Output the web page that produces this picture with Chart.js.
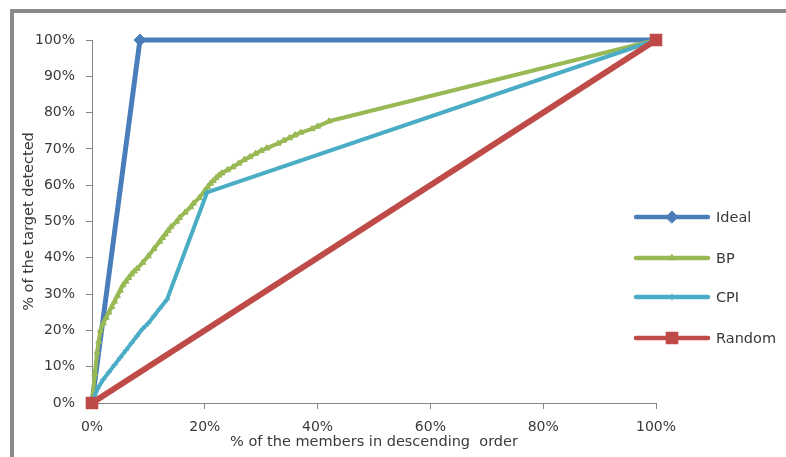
<!DOCTYPE html>
<html lang="en">
  <head>
    <meta charset="UTF-8" />
    <title>Lift chart</title>
    <script src="https://cdn.jsdelivr.net/npm/chart.js"></script>
    <style>
      html,
      body {
        margin: 0;
        padding: 0;
        background: #fff;
      }
      .wrap {
        position: relative;
        width: 786px;
        height: 457px;
      }
      .frame {
        position: absolute;
        left: 10px;
        top: 9px;
        right: 0;
        bottom: 0;
        border-top: 4px solid #8a8a8a;
        border-left: 4px solid #8a8a8a;
        pointer-events: none;
      }
    </style>
  </head>
  <body>
    <div class="wrap">
      <canvas id="liftChart" width="786" height="457"></canvas>
      <div class="frame"></div>
    </div>

    <script>
      // series values in % (x = members, y = target detected)
      const idealX = [0, 8.5, 100];
      const idealY = [0, 100, 100];

      const bpX = [0, 0.5, 0.9, 1.2, 1.5, 2, 2.5, 3, 3.5, 4, 4.5, 5, 5.5, 6, 6.5, 7, 7.5, 8, 9, 10, 11, 12, 12.5, 13, 13.5, 14, 15, 15.5, 16.5, 17.5, 18, 19, 20, 20.5, 21, 21.5, 22, 22.5, 23, 24, 25, 26, 27, 28, 29, 30, 31, 33, 34, 35, 36, 37, 39, 40, 42, 100];
      const bpY = [0, 8, 14, 17, 20, 22, 23.5, 25, 26.5, 28, 29.5, 31, 32.5, 33.5, 34.5, 35.5, 36.3, 37, 38.7, 40.5, 42.5, 44.5, 45.5, 46.5, 47.5, 48.5, 50, 51, 52.5, 54, 55, 56.5, 58.5, 59.5, 60.5, 61.2, 62, 62.7, 63.3, 64.2, 65, 66, 67, 67.8, 68.7, 69.5, 70.2, 71.5, 72.3, 73, 73.8, 74.5, 75.5, 76.2, 77.6, 100];

      const cpiX = [0, 1, 2, 3, 4, 5, 6, 7, 8, 9, 10, 11, 12, 13.3, 20.4, 100];
      const cpiY = [0, 4, 6.5, 8.5, 10.5, 12.5, 14.5, 16.5, 18.5, 20.5, 22, 24, 26, 28.5, 58, 100];

      const randomX = [0, 100];
      const randomY = [0, 100];

      const seriesNames = ["Ideal", "BP", "CPI", "Random"];
      const xTicks = [0, 20, 40, 60, 80, 100];
      const yTicks = [0, 10, 20, 30, 40, 50, 60, 70, 80, 90, 100];

      function pairs(xs, ys) {
        return xs.map((x, i) => ({ x: x, y: ys[i] }));
      }

      const FONT = "'DejaVu Sans', sans-serif";
      const TEXT = "#3a3a3a";
      const AXIS = "#868686";

      // legend drawn to the right of the plot, like the spreadsheet one
      const sideLegend = {
        id: "sideLegend",
        afterDraw(chart) {
          const ctx = chart.ctx;
          const rows = [217, 258, 297, 338];
          ctx.save();
          chart.data.datasets.forEach((ds, i) => {
            const y = rows[i];
            ctx.strokeStyle = ds.borderColor;
            ctx.lineWidth = 4.5;
            ctx.lineCap = "round";
            ctx.beginPath();
            ctx.moveTo(636, y);
            ctx.lineTo(708, y);
            ctx.stroke();
            ctx.fillStyle = ds.pointBackgroundColor;
            ctx.strokeStyle = ds.borderColor;
            ctx.lineWidth = ds.pointBorderWidth;
            Chart.helpers.drawPoint(
              ctx,
              {
                pointStyle: ds.pointStyle,
                radius: ds.pointRadius,
                borderWidth: ds.pointBorderWidth,
                rotation: 0,
              },
              672,
              y
            );
            ctx.fillStyle = TEXT;
            ctx.font = "14.5px " + FONT;
            ctx.textBaseline = "middle";
            ctx.textAlign = "left";
            ctx.fillText(seriesNames[i], 716, y + 1);
          });
          ctx.restore();
        },
      };

      new Chart(document.getElementById("liftChart"), {
        type: "scatter",
        data: {
          datasets: [
            {
              label: seriesNames[0],
              data: pairs(idealX, idealY),
              showLine: true,
              borderColor: "#4a7ebb",
              backgroundColor: "#4a7ebb",
              pointBackgroundColor: "#4a7ebb",
              borderWidth: 5,
              pointStyle: "rectRot",
              pointRadius: 6,
              pointBorderWidth: 1,
              order: 3,
            },
            {
              label: seriesNames[1],
              data: pairs(bpX, bpY),
              showLine: true,
              borderColor: "#98b954",
              backgroundColor: "#98b954",
              pointBackgroundColor: "#98b954",
              borderWidth: 4,
              pointStyle: "triangle",
              pointRadius: 3.5,
              pointBorderWidth: 1,
              order: 2,
            },
            {
              label: seriesNames[2],
              data: pairs(cpiX, cpiY),
              showLine: true,
              borderColor: "#4bacc6",
              backgroundColor: "#4bacc6",
              pointBackgroundColor: "#4bacc6",
              borderWidth: 4,
              pointStyle: "cross",
              pointRadius: 3,
              pointBorderWidth: 1.2,
              order: 1,
            },
            {
              label: seriesNames[3],
              data: pairs(randomX, randomY),
              showLine: true,
              borderColor: "#be4b48",
              backgroundColor: "#be4b48",
              pointBackgroundColor: "#be4b48",
              borderWidth: 6,
              pointStyle: "rect",
              pointRadius: 7.5,
              pointBorderWidth: 2,
              order: 0,
            },
          ],
        },
        options: {
          responsive: false,
          animation: false,
          events: [],
          clip: false,
          layout: { padding: { left: 0, top: 40, right: 130, bottom: 0 } },
          elements: {
            line: { tension: 0, borderJoinStyle: "round" },
            point: { hoverRadius: 0 },
          },
          plugins: {
            legend: { display: false },
            tooltip: { enabled: false },
          },
          scales: {
            x: {
              type: "linear",
              min: 0,
              max: 100,
              afterFit: (s) => {
                s.height = 54;
              },
              afterBuildTicks: (s) => {
                s.ticks = xTicks.map((v) => ({ value: v }));
              },
              ticks: {
                color: TEXT,
                font: { family: FONT, size: 14 },
                padding: 10,
                maxRotation: 0,
                callback: (v) => v + "%",
              },
              grid: { drawOnChartArea: false, tickLength: 6, color: AXIS },
              border: { color: AXIS, width: 1 },
              title: {
                display: true,
                text: "% of the members in descending  order",
                color: TEXT,
                font: { family: FONT, size: 14.5 },
                padding: { top: 0, bottom: 6 },
              },
            },
            y: {
              type: "linear",
              min: 0,
              max: 100,
              afterFit: (s) => {
                s.width = 92;
              },
              afterBuildTicks: (s) => {
                s.ticks = yTicks.map((v) => ({ value: v }));
              },
              ticks: {
                color: TEXT,
                font: { family: FONT, size: 14 },
                padding: 11,
                callback: (v) => v + "%",
              },
              grid: { drawOnChartArea: false, tickLength: 6, color: AXIS },
              border: { color: AXIS, width: 1 },
              title: {
                display: true,
                text: "% of the target detected",
                color: TEXT,
                font: { family: FONT, size: 14.5 },
                padding: { top: 21, bottom: 0 },
              },
            },
          },
        },
        plugins: [sideLegend],
      });
    </script>
  </body>
</html>
